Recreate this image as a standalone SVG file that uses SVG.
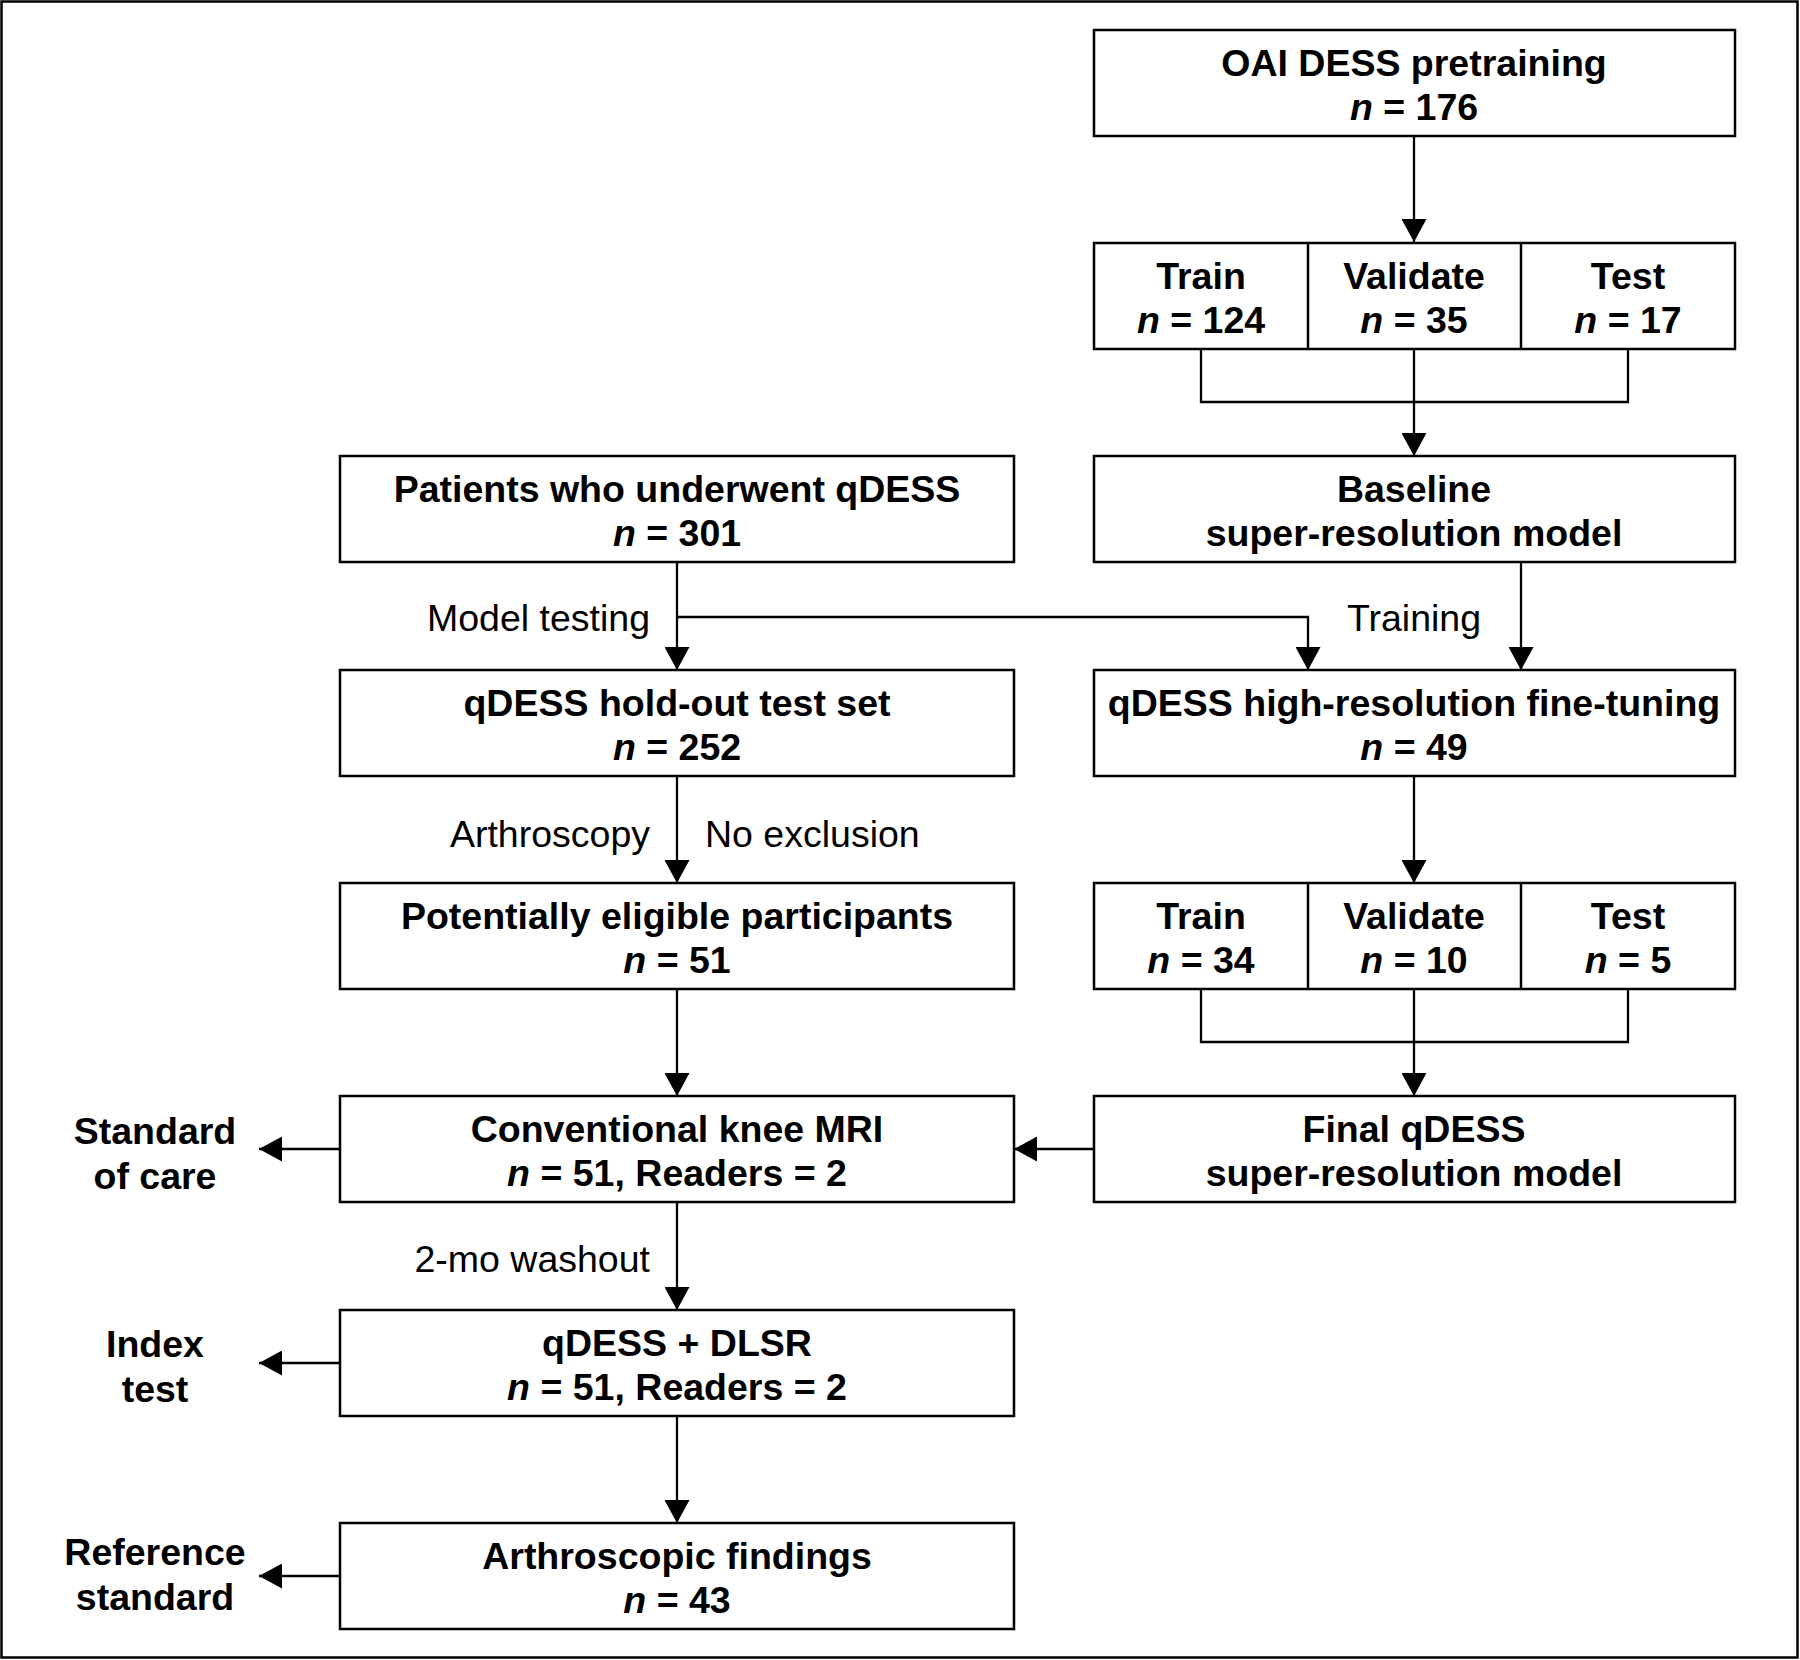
<svg xmlns="http://www.w3.org/2000/svg" width="1800" height="1660" viewBox="0 0 1800 1660">
<defs>
<marker id="ah" markerWidth="23" markerHeight="25" viewBox="0 0 23 25" refX="23" refY="12.5" orient="auto" markerUnits="userSpaceOnUse">
<path d="M0,0 L23,12.5 L0,25 Z" fill="#000"/>
</marker>
<style>
.box{fill:#fff;stroke:#000;stroke-width:2.5}
.div{stroke:#000;stroke-width:2.5}
.t{font-family:"Liberation Sans",Arial,sans-serif;font-size:37.5px;font-weight:bold;text-anchor:middle;fill:#000}
.l{font-family:"Liberation Sans",Arial,sans-serif;font-size:37.5px;font-weight:normal;fill:#000}
.c{fill:none;stroke:#000;stroke-width:2.3}
.a{fill:none;stroke:#000;stroke-width:2.3;marker-end:url(#ah)}
.i{font-style:italic}
</style>
</defs>
<rect x="0" y="0" width="1800" height="1660" fill="#fff"/>
<rect x="1.5" y="1.5" width="1796" height="1656" fill="none" stroke="#000" stroke-width="2.5"/>

<g id="connectors">
<line class="a" x1="1414" y1="136" x2="1414" y2="242"/>
<path class="c" d="M1201,349 V402 H1628 V349"/>
<line class="a" x1="1414" y1="349" x2="1414" y2="456"/>
<line class="a" x1="1521" y1="562" x2="1521" y2="670"/>
<line class="a" x1="677" y1="562" x2="677" y2="670"/>
<path class="a" d="M677,617 H1308 V670"/>
<line class="a" x1="1414" y1="776" x2="1414" y2="883"/>
<line class="a" x1="677" y1="776" x2="677" y2="883"/>
<path class="c" d="M1201,989 V1042 H1628 V989"/>
<line class="a" x1="1414" y1="989" x2="1414" y2="1096"/>
<line class="a" x1="677" y1="989" x2="677" y2="1096"/>
<line class="a" x1="1094" y1="1149" x2="1014" y2="1149"/>
<line class="a" x1="340" y1="1149" x2="259" y2="1149"/>
<line class="a" x1="677" y1="1202" x2="677" y2="1310"/>
<line class="a" x1="340" y1="1363" x2="259" y2="1363"/>
<line class="a" x1="677" y1="1416" x2="677" y2="1523"/>
<line class="a" x1="340" y1="1576" x2="259" y2="1576"/>
<text class="l" x="650" y="631" text-anchor="end">Model testing</text>
<text class="l" x="1414" y="631" text-anchor="middle">Training</text>
<text class="l" x="650" y="847" text-anchor="end">Arthroscopy</text>
<text class="l" x="705" y="847">No exclusion</text>
<text class="l" x="650" y="1272" text-anchor="end">2-mo washout</text>
</g>

<g id="oai">
<rect class="box" x="1094" y="30" width="641" height="106"/>
<text class="t" x="1414" y="76">OAI DESS pretraining</text>
<text class="t" x="1414" y="120"><tspan class="i">n</tspan> = 176</text>
</g>

<g id="split1">
<rect class="box" x="1094" y="243" width="641" height="106"/>
<line class="div" x1="1308" y1="243" x2="1308" y2="349"/>
<line class="div" x1="1521" y1="243" x2="1521" y2="349"/>
<text class="t" x="1201" y="289">Train</text>
<text class="t" x="1201" y="333"><tspan class="i">n</tspan> = 124</text>
<text class="t" x="1414" y="289">Validate</text>
<text class="t" x="1414" y="333"><tspan class="i">n</tspan> = 35</text>
<text class="t" x="1628" y="289">Test</text>
<text class="t" x="1628" y="333"><tspan class="i">n</tspan> = 17</text>
</g>

<g id="patients">
<rect class="box" x="340" y="456" width="674" height="106"/>
<text class="t" x="677" y="502">Patients who underwent qDESS</text>
<text class="t" x="677" y="546"><tspan class="i">n</tspan> = 301</text>
</g>

<g id="baseline">
<rect class="box" x="1094" y="456" width="641" height="106"/>
<text class="t" x="1414" y="502">Baseline</text>
<text class="t" x="1414" y="546">super-resolution model</text>
</g>

<g id="holdout">
<rect class="box" x="340" y="670" width="674" height="106"/>
<text class="t" x="677" y="716">qDESS hold-out test set</text>
<text class="t" x="677" y="760"><tspan class="i">n</tspan> = 252</text>
</g>

<g id="finetune">
<rect class="box" x="1094" y="670" width="641" height="106"/>
<text class="t" x="1414" y="716">qDESS high-resolution fine-tuning</text>
<text class="t" x="1414" y="760"><tspan class="i">n</tspan> = 49</text>
</g>

<g id="eligible">
<rect class="box" x="340" y="883" width="674" height="106"/>
<text class="t" x="677" y="929">Potentially eligible participants</text>
<text class="t" x="677" y="973"><tspan class="i">n</tspan> = 51</text>
</g>

<g id="split2">
<rect class="box" x="1094" y="883" width="641" height="106"/>
<line class="div" x1="1308" y1="883" x2="1308" y2="989"/>
<line class="div" x1="1521" y1="883" x2="1521" y2="989"/>
<text class="t" x="1201" y="929">Train</text>
<text class="t" x="1201" y="973"><tspan class="i">n</tspan> = 34</text>
<text class="t" x="1414" y="929">Validate</text>
<text class="t" x="1414" y="973"><tspan class="i">n</tspan> = 10</text>
<text class="t" x="1628" y="929">Test</text>
<text class="t" x="1628" y="973"><tspan class="i">n</tspan> = 5</text>
</g>

<g id="conventional">
<rect class="box" x="340" y="1096" width="674" height="106"/>
<text class="t" x="677" y="1142">Conventional knee MRI</text>
<text class="t" x="677" y="1186"><tspan class="i">n</tspan> = 51, Readers = 2</text>
</g>

<g id="final">
<rect class="box" x="1094" y="1096" width="641" height="106"/>
<text class="t" x="1414" y="1142">Final qDESS</text>
<text class="t" x="1414" y="1186">super-resolution model</text>
</g>

<g id="dlsr">
<rect class="box" x="340" y="1310" width="674" height="106"/>
<text class="t" x="677" y="1356">qDESS + DLSR</text>
<text class="t" x="677" y="1400"><tspan class="i">n</tspan> = 51, Readers = 2</text>
</g>

<g id="arthroscopic">
<rect class="box" x="340" y="1523" width="674" height="106"/>
<text class="t" x="677" y="1569">Arthroscopic findings</text>
<text class="t" x="677" y="1613"><tspan class="i">n</tspan> = 43</text>
</g>

<g id="standard-of-care">
<text class="t" x="155" y="1144">Standard</text>
<text class="t" x="155" y="1189">of care</text>
</g>
<g id="index-test">
<text class="t" x="155" y="1357">Index</text>
<text class="t" x="155" y="1402">test</text>
</g>
<g id="reference-standard">
<text class="t" x="155" y="1565">Reference</text>
<text class="t" x="155" y="1610">standard</text>
</g>
</svg>
